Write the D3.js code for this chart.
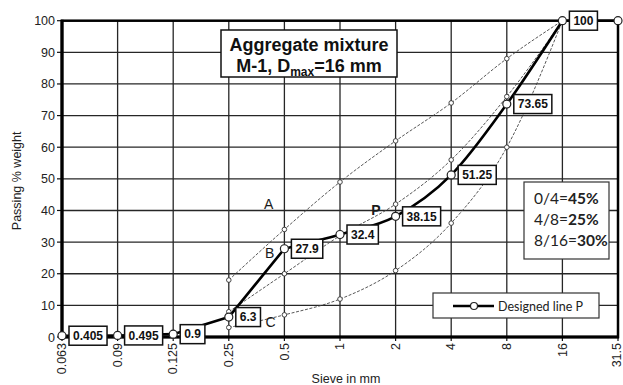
<!DOCTYPE html>
<html>
<head>
<meta charset="utf-8">
<script src="https://cdn.jsdelivr.net/npm/d3@7"></script>
<style>
  html, body { margin: 0; padding: 0; background: #fff; }
  svg { display: block; }
</style>
</head>
<body>
<svg id="chart" width="623" height="385"></svg>
<script>
// Sieve sizes (mm), evenly spaced on the x axis
const sieves = ["0.063", "0.09", "0.125", "0.25", "0.5", "1", "2", "4", "8", "16", "31.5"];
// Designed grading line P (% passing)
const passingP = [0.405, 0.495, 0.9, 6.3, 27.9, 32.4, 38.15, 51.25, 73.65, 100, 100];
// Grading limit curves A (upper), B (middle), C (lower)
const limitA = [null, null, null, 18, 34, 49, 62, 74, 88, 100, null];
const limitB = [null, null, null, 8, 20, 32, 42, 56, 76, 100, null];
const limitC = [null, null, null, 3, 7, 12, 21, 36, 60, 100, null];
const yTicks = [0, 10, 20, 30, 40, 50, 60, 70, 80, 90, 100];
// Fraction proportions of the mixture
const fractions = ["0/4=", "4/8=", "8/16="];
const shares = ["45%", "25%", "30%"];

const svg = d3.select("#chart");
const L = 62, R = 618, T = 20.7, B = 337;

const x = d3.scalePoint().domain(sieves).range([L, R]).padding(0);
const y = d3.scaleLinear().domain([0, 100]).range([B, T]);

const ARIAL = "'Liberation Sans', Arial, sans-serif";
const SOFT = "Lato, 'Open Sans', sans-serif";

svg.append("rect").attr("width", 623).attr("height", 385).attr("fill", "#fff");

// grid
const grid = svg.append("g").attr("stroke", "#262626").attr("stroke-width", 1.3);
grid.selectAll("line.h").data(yTicks.slice(1, -1)).join("line")
  .attr("x1", L).attr("x2", R).attr("y1", d => y(d)).attr("y2", d => y(d));
grid.selectAll("line.v").data(sieves.slice(1, -1)).join("line")
  .attr("y1", T).attr("y2", B).attr("x1", d => x(d)).attr("x2", d => x(d));

// y axis ticks and labels
const yAxis = svg.append("g");
yAxis.selectAll("line").data(yTicks).join("line")
  .attr("x1", L - 5).attr("x2", L).attr("y1", d => y(d)).attr("y2", d => y(d))
  .attr("stroke", "#111").attr("stroke-width", 1.2);
yAxis.selectAll("text").data(yTicks).join("text")
  .attr("x", L - 7).attr("y", d => y(d)).attr("dy", "0.36em")
  .attr("text-anchor", "end").attr("font-family", ARIAL).attr("font-size", 12.5)
  .attr("fill", "#222").text(d => d);

// x axis ticks and rotated labels
const xAxis = svg.append("g");
xAxis.selectAll("line").data(sieves).join("line")
  .attr("x1", d => x(d)).attr("x2", d => x(d)).attr("y1", B).attr("y2", B + 4)
  .attr("stroke", "#111").attr("stroke-width", 1.2);
xAxis.selectAll("text").data(sieves).join("text")
  .attr("transform", (d, i) => `translate(${x(d) - (i === sieves.length - 1 ? 1 : 0)},${B + 6}) rotate(-90)`)
  .attr("dy", "0.34em").attr("text-anchor", "end")
  .attr("font-family", ARIAL).attr("font-size", 12.5).attr("fill", "#222").text(d => d);

// axis titles
svg.append("text").attr("transform", `translate(16,${(T + B) / 2 + 2}) rotate(-90)`)
  .attr("dy", "0.36em").attr("text-anchor", "middle")
  .attr("font-family", ARIAL).attr("font-size", 12.5).attr("fill", "#222").text("Passing % weight");
svg.append("text").attr("x", 346).attr("y", 383).attr("text-anchor", "middle")
  .attr("font-family", ARIAL).attr("font-size", 12.5).attr("fill", "#222").text("Sieve in mm");

// plot frame
svg.append("rect").attr("x", L).attr("y", T).attr("width", R - L).attr("height", B - T)
  .attr("fill", "none").attr("stroke", "#000").attr("stroke-width", 2.5);
svg.append("line").attr("x1", L).attr("x2", L).attr("y1", T - 1).attr("y2", B + 1.5)
  .attr("stroke", "#000").attr("stroke-width", 3.2);
svg.append("line").attr("x1", L - 1.5).attr("x2", R + 1).attr("y1", B).attr("y2", B)
  .attr("stroke", "#000").attr("stroke-width", 3.2);

const toPts = arr => sieves.map((s, i) => ({ s, v: arr[i] }));

// limit curves, smoothed
const smoothLine = d3.line()
  .defined(d => d.v !== null)
  .x(d => x(d.s)).y(d => y(d.v))
  .curve(d3.curveMonotoneX);
const straightLine = d3.line().x(d => x(d.s)).y(d => y(d.v));
[limitA, limitB, limitC].forEach(arr => {
  svg.append("path").datum(toPts(arr)).attr("d", smoothLine)
    .attr("fill", "none").attr("stroke", "#444").attr("stroke-width", 0.9)
    .attr("stroke-dasharray", "3,1.6");
});

// designed line P: straight through the fine sieves, smoothed from 0.5 to 16 mm,
// then level to 31.5 mm
const ptsP = toPts(passingP);
const iSmooth0 = sieves.indexOf("0.5"), iSmooth1 = sieves.indexOf("16");
const pStyle = p => p.attr("fill", "none").attr("stroke", "#000").attr("stroke-width", 2.6)
  .attr("stroke-linejoin", "round").attr("stroke-linecap", "round");
svg.append("path").datum(ptsP.slice(0, iSmooth0 + 1)).attr("d", straightLine).call(pStyle);
svg.append("path").datum(ptsP.slice(iSmooth0, iSmooth1 + 1)).attr("d", smoothLine).call(pStyle);
svg.append("path").datum(ptsP.slice(iSmooth1)).attr("d", straightLine).call(pStyle);

// limit curve markers
[limitA, limitB, limitC].forEach(arr => {
  svg.append("g").selectAll("circle").data(toPts(arr).filter(d => d.v !== null)).join("circle")
    .attr("cx", d => x(d.s)).attr("cy", d => y(d.v)).attr("r", 2.3)
    .attr("fill", "#fff").attr("stroke", "#333").attr("stroke-width", 0.9);
});

// value labels for line P
const labels = svg.append("g");
ptsP.slice(0, -1).forEach(d => {
  const g = labels.append("g");
  const rect = g.append("rect");
  const t = g.append("text").attr("x", x(d.s) + 11).attr("y", y(d.v)).attr("dy", "0.36em")
    .attr("font-family", ARIAL).attr("font-weight", "bold").attr("font-size", 12)
    .attr("fill", "#111").text(String(d.v));
  const w = t.node().getComputedTextLength();
  rect.attr("x", x(d.s) + 7).attr("y", y(d.v) - 9.5).attr("width", w + 8).attr("height", 19)
    .attr("fill", "#fff").attr("stroke", "#111").attr("stroke-width", 1.5);
});

// markers for line P
svg.append("g").selectAll("circle").data(ptsP).join("circle")
  .attr("cx", d => x(d.s)).attr("cy", d => y(d.v)).attr("r", 4)
  .attr("fill", "#fff").attr("stroke", "#222").attr("stroke-width", 1.2);

// curve letters
const mid = (a, b) => (x(a) + x(b)) / 2;
const letter = (txt, cx, v, bold) => svg.append("text").attr("x", cx).attr("y", y(v)).attr("dy", "0.36em")
  .attr("text-anchor", "middle").attr("font-family", ARIAL).attr("font-size", 14)
  .attr("font-weight", bold ? "bold" : "normal").attr("fill", "#1a1a1a").text(txt);
letter("A", mid("0.25", "0.5") + 12, 42.2, false);
letter("B", mid("0.25", "0.5") + 13, 26.6, false);
letter("C", mid("0.25", "0.5") + 14, 4.8, false);
letter("P", mid("1", "2") + 8, 40.2, true);

// title box
const title = svg.append("g");
title.append("rect").attr("x", 221).attr("y", 30).attr("width", 176).attr("height", 47)
  .attr("fill", "#fff").attr("stroke", "#111").attr("stroke-width", 1.5);
title.append("text").attr("x", 309).attr("y", 51).attr("text-anchor", "middle")
  .attr("font-family", ARIAL).attr("font-weight", "bold").attr("font-size", 18).attr("fill", "#111")
  .text("Aggregate mixture");
const t2 = title.append("text").attr("x", 309).attr("y", 72).attr("text-anchor", "middle")
  .attr("font-family", ARIAL).attr("font-weight", "bold").attr("font-size", 18).attr("fill", "#111");
t2.append("tspan").text("M-1, D");
t2.append("tspan").attr("font-size", 12).attr("dy", 4).text("max");
t2.append("tspan").attr("dy", -4).text("=16 mm");

// fraction proportions box
const frac = svg.append("g");
frac.append("rect").attr("x", 524).attr("y", 182).attr("width", 85).attr("height", 77)
  .attr("fill", "#fff").attr("stroke", "#333").attr("stroke-width", 1.2);
fractions.forEach((f, i) => {
  const t = frac.append("text").attr("x", 534).attr("y", 203.5 + i * 21.3)
    .attr("font-family", SOFT).attr("font-size", 15.5).attr("fill", "#222");
  t.append("tspan").text(f);
  t.append("tspan").attr("font-weight", "bold").text(shares[i]);
});

// legend
const leg = svg.append("g");
leg.append("rect").attr("x", 433).attr("y", 293).attr("width", 166).attr("height", 25)
  .attr("fill", "#fff").attr("stroke", "#333").attr("stroke-width", 1.2);
leg.append("line").attr("x1", 453).attr("x2", 494).attr("y1", 306).attr("y2", 306)
  .attr("stroke", "#000").attr("stroke-width", 2.6);
leg.append("circle").attr("cx", 474).attr("cy", 306).attr("r", 3.5)
  .attr("fill", "#fff").attr("stroke", "#222").attr("stroke-width", 1.2);
leg.append("text").attr("x", 498).attr("y", 306).attr("dy", "0.36em")
  .attr("font-family", SOFT).attr("font-size", 12.5).attr("fill", "#222").text("Designed line P");
</script>
</body>
</html>
